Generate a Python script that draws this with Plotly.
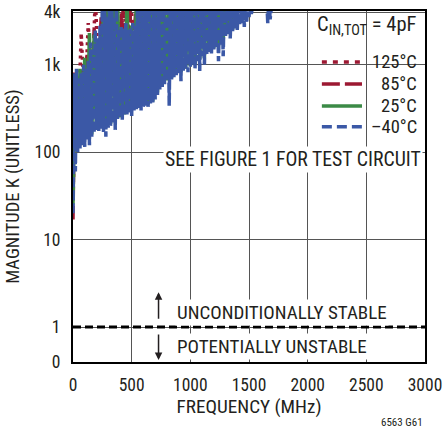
import plotly.graph_objects as go

# ---------------- data ----------------
# -40°C sweep, sampled every 10 MHz (lower edge / upper spike pairs)
freq_m40 = [0, 10, 20, 30, 40, 50, 60, 70, 80, 90,
            100, 110, 120, 130, 140, 150, 160, 170, 180, 190,
            200, 210, 220, 230, 240, 250, 260, 270, 280, 290,
            300, 310, 320, 330, 340, 350, 360, 370, 380, 390,
            400, 410, 420, 430, 440, 450, 460, 470, 480, 490,
            500, 510, 520, 530, 540, 550, 560, 570, 580, 590,
            600, 610, 620, 630, 640, 650, 660, 670, 680, 690,
            700, 710, 720, 730, 740, 750, 760, 770, 780, 790,
            800, 810, 820, 830, 840, 850, 860, 870, 880, 890,
            900, 910, 920, 930, 940, 950, 960, 970, 980, 990,
            1000, 1010, 1020, 1030, 1040, 1050, 1060, 1070, 1080, 1090,
            1100, 1110, 1120, 1130, 1140, 1150, 1160, 1170, 1180, 1190,
            1200, 1210, 1220, 1230, 1240, 1250, 1260, 1270, 1280, 1290,
            1300, 1310, 1320, 1330, 1340, 1350, 1360, 1370, 1380, 1390,
            1400, 1410, 1420, 1430, 1440, 1450, 1460, 1470, 1480, 1490,
            1500, 1510, 1520, 1530, 1540, 1550, 1560, 1570, 1580, 1590,
            1600, 1610, 1620, 1630, 1640, 1650, 1660, 1670, 1680, 1690,
            1700]
k_m40 = [20, 800, 60, 900, 100, 700, 110, 800, 120, 1000,
         115, 900, 140, 1100, 120, 1800, 150, 1500, 165, 2500,
         180, 2000, 175, 2800, 185, 6000, 170, 6000, 150, 3500,
         190, 6000, 200, 6000, 215, 3500, 180, 6000, 240, 2500,
         250, 2800, 235, 2600, 260, 3000, 270, 2500, 280, 2600,
         260, 3000, 300, 2800, 310, 6000, 320, 6000, 300, 6000,
         330, 6000, 340, 6000, 330, 6000, 360, 6000, 370, 6000,
         400, 6000, 450, 6000, 520, 6000, 540, 6000, 600, 6000,
         650, 6000, 340, 6000, 680, 6000, 720, 6000, 760, 6000,
         800, 6000, 650, 6000, 850, 6000, 900, 6000, 820, 6000,
         950, 6000, 1000, 6000, 900, 6000, 1100, 6000, 850, 6000,
         1250, 6000, 1000, 6000, 1300, 6000, 1400, 6000, 1350, 6000,
         1500, 6000, 1600, 6000, 1100, 6000, 1700, 6000, 1250, 6000,
         2100, 6000, 2200, 6000, 2000, 6000, 2400, 6000, 2600, 6000,
         2500, 6000, 2800, 6000, 3000, 6000, 2700, 6000, 3000, 6000,
         3500, 6000, 3800, 6000, 6000, 6000, 6000, 6000, 6000, 6000,
         6000, 6000, 6000, 6000, 6000, 6000, 3000, 6000, 3300, 6000,
         6000]

# 25°C sweep, every 20 MHz
freq_25 = [0, 20, 40, 60, 80, 100, 120, 140, 160, 180,
           200, 220, 240, 260, 280, 300, 320, 340, 360, 380,
           400, 420, 440, 460, 480, 500, 520, 540, 560, 580,
           600, 620, 640, 660, 680, 700, 720, 740, 760, 780,
           800, 820, 840, 860, 880, 900, 920, 940, 960, 980,
           1000, 1020, 1040, 1060, 1080, 1100, 1120, 1140, 1160, 1180,
           1200, 1220, 1240, 1260, 1280, 1300, 1320, 1340, 1360, 1380,
           1400]
k_25 = [25, 700, 120, 900, 130, 1200, 150, 2300, 160, 2200,
        180, 2000, 190, 6000, 200, 6000, 210, 6000, 230, 6000,
        250, 2500, 270, 6000, 290, 2800, 310, 6000, 330, 6000,
        340, 6000, 350, 6000, 380, 6000, 480, 6000, 560, 6000,
        660, 6000, 700, 6000, 780, 6000, 820, 6000, 900, 6000,
        960, 6000, 1000, 6000, 1150, 6000, 1200, 6000, 1400, 6000,
        1550, 6000, 1650, 6000, 1900, 6000, 2300, 6000, 2500, 6000,
        2800]

# 85°C sweep
freq_85 = [0, 15, 30, 60, 90, 120, 150, 180, 210, 240, 270, 300, 330, 360, 390, 420,
           450, 480, 510, 540, 570, 600]
k_85 = [17, 830, 150, 700, 200, 1300, 250, 2500, 300, 3500, 400, 5000, 500, 6000, 800,
        6000, 900, 5000, 1000, 6000, 1200, 6000]

# 125°C sweep
freq_125 = [0, 20, 40, 70, 100, 130, 160, 190, 220, 250, 280, 310, 340, 370, 400, 430,
            460, 490, 520, 550, 580, 610]
k_125 = [30, 400, 120, 2300, 300, 3000, 400, 6000, 600, 3000, 900, 6000, 1000, 6000,
         1200, 6000, 1400, 6000, 1500, 6000, 2000, 6000]

series_names = ["125°C", "85°C", "25°C", "–40°C"]
x_tick_vals = [0, 500, 1000, 1500, 2000, 2500, 3000]
x_tick_text = ["0", "500", "1000", "1500", "2000", "2500", "3000"]
y_tick_vals = [0.4, 1, 10, 100, 1000, 4000]
y_tick_text = ["0", "1", "10", "100", "1k", "4k"]
k_stable = 1

# ---------------- styles ----------------
RED = "#9c1832"
GREEN = "#3b8a46"
BLUE = "#3b58a6"
INK = "#231f20"
FONT = "Roboto Condensed, DejaVu Sans Condensed, sans-serif"

fig = go.Figure()
traces = [
    (freq_125, k_125, RED, "3px,4px"),
    (freq_85, k_85, RED, "14px,5px"),
    (freq_25, k_25, GREEN, "solid"),
    (freq_m40, k_m40, BLUE, "10px,3px"),
]
for (fx, ky, col, dash), name in zip(traces, series_names):
    fig.add_trace(go.Scatter(x=fx, y=ky, mode="lines", name=name,
                             line=dict(color=col, width=3.5, dash=dash),
                             showlegend=False, hoverinfo="skip"))

# K = 1 dashed boundary
fig.add_trace(go.Scatter(x=[x_tick_vals[0], x_tick_vals[-1]], y=[k_stable, k_stable],
                         mode="lines", line=dict(color="black", width=3, dash="8px,4px"),
                         showlegend=False, hoverinfo="skip"))

# legend box (drawn manually)
fig.add_shape(type="rect", xref="paper", yref="paper", x0=0.67, x1=0.985, y0=0.635, y1=0.997,
              fillcolor="white", line=dict(width=0), layer="between")
leg_y = [0.855, 0.792, 0.729, 0.670]
leg_col = [RED, RED, GREEN, BLUE]
leg_dash = ["5px,6px", "18px,5px", "solid", "10px,5px"]
for yy, col, dsh, name in zip(leg_y, leg_col, leg_dash, series_names):
    fig.add_shape(type="line", xref="paper", yref="paper", x0=0.707, x1=0.821, y0=yy, y1=yy,
                  line=dict(color=col, width=3.5, dash=dsh), layer="above")
    fig.add_annotation(xref="paper", yref="paper", x=0.982, y=yy, text=name, showarrow=False,
                       xanchor="right", yanchor="middle",
                       font=dict(family=FONT, size=18.5, color=INK))
fig.add_annotation(xref="paper", yref="paper", x=0.982, y=0.958,
                   text="C<sub>IN,TOT</sub> = 4pF", showarrow=False,
                   xanchor="right", yanchor="middle",
                   font=dict(family=FONT, size=20.5, color=INK))

fig.add_annotation(xref="paper", yref="paper", x=0.994, y=0.578,
                   text="SEE FIGURE 1 FOR TEST CIRCUIT", showarrow=False,
                   xanchor="right", yanchor="middle", bgcolor="white", borderpad=1,
                   font=dict(family=FONT, size=19.8, color=INK))
fig.add_annotation(xref="paper", yref="paper", x=0.29, y=0.142,
                   text="UNCONDITIONALLY STABLE", showarrow=False,
                   xanchor="left", yanchor="middle", bgcolor="white", borderpad=1,
                   font=dict(family=FONT, size=19, color=INK))
fig.add_annotation(xref="paper", yref="paper", x=0.29, y=0.043,
                   text="POTENTIALLY UNSTABLE", showarrow=False,
                   xanchor="left", yanchor="middle", bgcolor="white", borderpad=1,
                   font=dict(family=FONT, size=19, color=INK))
# arrows
fig.add_annotation(xref="paper", yref="paper", x=0.243, y=0.199, ax=0, ay=28,
                   axref="pixel", ayref="pixel", text="", showarrow=True,
                   arrowhead=2, arrowsize=1, arrowwidth=1.5, arrowcolor=INK)
fig.add_annotation(xref="paper", yref="paper", x=0.243, y=0.006, ax=0, ay=-27,
                   axref="pixel", ayref="pixel", text="", showarrow=True,
                   arrowhead=2, arrowsize=1, arrowwidth=1.5, arrowcolor=INK)

fig.add_annotation(xref="paper", yref="paper", x=1.0, y=-0.171, text="6563 G61",
                   showarrow=False, xanchor="right", yanchor="middle",
                   font=dict(family=FONT, size=11, color=INK))

fig.update_layout(
    width=444, height=431,
    margin=dict(l=73, r=19, t=11, b=69),
    paper_bgcolor="white", plot_bgcolor="white",
    font=dict(family=FONT, size=18, color=INK),
    showlegend=False,
)
fig.update_xaxes(range=[0, 3000], tickvals=x_tick_vals, ticktext=x_tick_text,
                 showgrid=True, gridcolor="#555555", gridwidth=1,
                 showline=True, linecolor="black", linewidth=2, mirror=True,
                 ticks="", zeroline=False, automargin=False, ticklabelstandoff=6,
                 ticklabeloverflow="allow",
                 title=dict(text="FREQUENCY (MHz)", standoff=4,
                            font=dict(family=FONT, size=19.2, color=INK)),
                 tickfont=dict(family=FONT, size=17.5, color=INK))
fig.update_yaxes(type="log", range=[-0.40, 3.615], tickvals=y_tick_vals, ticktext=y_tick_text,
                 showgrid=True, gridcolor="#555555", gridwidth=1,
                 showline=True, linecolor="black", linewidth=2, mirror=True,
                 ticks="", zeroline=False, automargin=False, ticklabelstandoff=7,
                 ticklabeloverflow="allow",
                 title=dict(text="MAGNITUDE K (UNITLESS)", standoff=10,
                            font=dict(family=FONT, size=18.5, color=INK)),
                 tickfont=dict(family=FONT, size=17.5, color=INK))

# remove the browser's default 8px body margin so the figure fills the window
fig.write_html("out.html", config={"displayModeBar": False},
               post_script="document.body.style.margin='0px';")
